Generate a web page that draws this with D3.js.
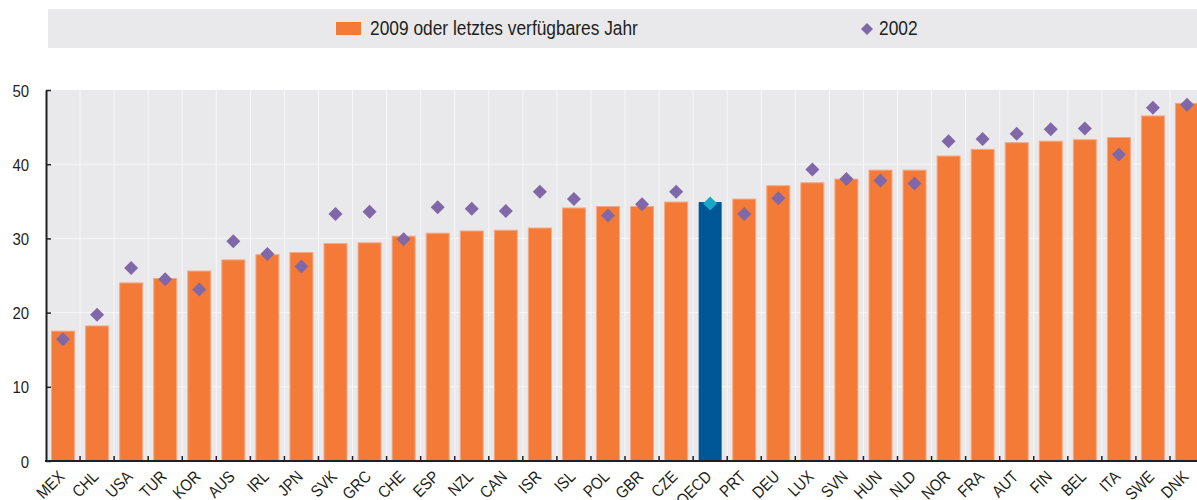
<!DOCTYPE html>
<html>
<head>
<meta charset="utf-8">
<script src="https://cdn.jsdelivr.net/npm/d3@7"></script>
<style>
  body { margin: 0; background: #fff; }
  svg text { font-family: 'Liberation Sans', Arial, sans-serif; fill: #231f20; }
</style>
</head>
<body>
<svg id="chart" width="1197" height="500"></svg>
<script>
var countries = ['MEX','CHL','USA','TUR','KOR','AUS','IRL','JPN','SVK','GRC','CHE','ESP','NZL','CAN','ISR','ISL','POL','GBR','CZE','OECD','PRT','DEU','LUX','SVN','HUN','NLD','NOR','FRA','AUT','FIN','BEL','ITA','SWE','DNK'];
var latest = [17.5,18.2,24.0,24.6,25.6,27.1,27.8,28.1,29.3,29.4,30.3,30.7,31.0,31.1,31.4,34.1,34.3,34.3,34.9,34.9,35.3,37.1,37.5,38.0,39.2,39.2,41.1,42.0,42.9,43.1,43.3,43.6,46.5,48.2];
var y2002 = [16.4,19.7,26.0,24.5,23.1,29.6,27.9,26.2,33.3,33.6,29.9,34.2,34.0,33.7,36.3,35.3,33.1,34.6,36.3,34.7,33.3,35.4,39.3,38.0,37.8,37.4,43.1,43.4,44.1,44.7,44.8,41.3,47.6,48.0];
var yTicks = [0,10,20,30,40,50];
var seriesNames = ['2009 oder letztes verfügbares Jahr', '2002'];

var svg = d3.select('#chart');
var plotLeft = 46, plotBottom = 461, plotTop = 90;
var step = 34.06;
var plotRight = plotLeft + step * countries.length;
var narrow = 0.88; // condensed look

var x = d3.scaleBand().domain(countries).range([plotLeft, plotRight])
    .paddingInner(0.325).paddingOuter(0.1625);
var y = d3.scaleLinear().domain([0, 50]).range([plotBottom, plotTop]);

// legend
var legend = svg.append('g');
legend.append('rect').attr('x', 48).attr('y', 9).attr('width', 1149).attr('height', 39).attr('fill', '#e9e9ec');
legend.append('rect').attr('x', 336).attr('y', 22).attr('width', 25).attr('height', 13).attr('fill', '#f37b37');
legend.append('text').attr('transform', 'translate(370,34.5) scale(' + (narrow + 0.01) + ',1)')
    .style('font-size', '19.5px').text(seriesNames[0]);
legend.append('path').attr('d', d3.symbol(d3.symbolSquare, 72)())
    .attr('transform', 'translate(867,29) rotate(45)').attr('fill', '#8067a7');
legend.append('text').attr('transform', 'translate(879,34.5) scale(' + (narrow + 0.01) + ',1)')
    .style('font-size', '19.5px').text(seriesNames[1]);

// plot background + grid
svg.append('rect').attr('x', plotLeft).attr('y', plotTop).attr('width', 1197 - plotLeft)
    .attr('height', plotBottom - plotTop).attr('fill', '#e9e9ec');
svg.append('g').selectAll('line').data(yTicks.slice(1, -1)).enter().append('line')
    .attr('x1', plotLeft).attr('x2', 1197)
    .attr('y1', function(d) { return y(d); }).attr('y2', function(d) { return y(d); })
    .attr('stroke', '#f7f7f8').attr('stroke-width', 1);
var boundaries = countries.slice(1).map(function(d) { return x(d) - x.step() * x.paddingInner() / 2; });
svg.append('g').selectAll('line').data(boundaries).enter().append('line')
    .attr('x1', function(d) { return d; }).attr('x2', function(d) { return d; })
    .attr('y1', plotTop).attr('y2', plotBottom)
    .attr('stroke', '#f7f7f8').attr('stroke-width', 1);

// bars
svg.append('g').selectAll('rect').data(countries).enter().append('rect')
    .attr('x', function(d) { return x(d); })
    .attr('y', function(d, i) { return y(latest[i]); })
    .attr('width', x.bandwidth())
    .attr('height', function(d, i) { return plotBottom - y(latest[i]); })
    .attr('fill', function(d) { return d === 'OECD' ? '#005797' : '#f37b37'; })
    .attr('stroke', function(d) { return d === 'OECD' ? 'none' : '#f6a882'; })
    .attr('stroke-width', 1);

// 2002 markers
var diamond = d3.symbol(d3.symbolSquare, 98);
svg.append('g').selectAll('path').data(countries).enter().append('path')
    .attr('d', diamond)
    .attr('transform', function(d, i) {
        return 'translate(' + (x(d) + x.bandwidth() / 2) + ',' + y(y2002[i]) + ') rotate(45)';
    })
    .attr('fill', function(d) { return d === 'OECD' ? '#17a8c9' : '#8067a7'; });

// y axis
var yAxis = svg.append('g').attr('transform', 'translate(' + plotLeft + ',0)')
    .call(d3.axisLeft(y).tickValues(yTicks).tickSizeInner(-5).tickSizeOuter(0));
yAxis.select('.domain').attr('stroke', '#231f20').attr('stroke-width', 2);
yAxis.selectAll('.tick line').attr('stroke', '#231f20').attr('stroke-width', 1.5);
yAxis.selectAll('text').style('font-size', '17px').attr('font-family', null).attr('fill', null)
    .attr('x', -17 / narrow).attr('dy', '0.36em')
    .attr('transform', 'scale(' + narrow + ',1)');

// x axis
var xAxis = svg.append('g').attr('transform', 'translate(0,' + plotBottom + ')')
    .call(d3.axisBottom(x).tickSize(0).tickPadding(0));
xAxis.select('.domain').remove();
xAxis.selectAll('text')
    .style('font-size', '16.5px').attr('font-family', null).attr('fill', null)
    .style('text-anchor', 'end')
    .attr('x', -10 / narrow).attr('y', 13.5).attr('dy', 0)
    .attr('transform', 'rotate(-45) scale(' + narrow + ',1)');
svg.append('line').attr('x1', plotLeft - 1).attr('x2', 1197).attr('y1', plotBottom).attr('y2', plotBottom)
    .attr('stroke', '#231f20').attr('stroke-width', 2);
svg.append('g').selectAll('line').data(boundaries).enter().append('line')
    .attr('x1', function(d) { return d; }).attr('x2', function(d) { return d; })
    .attr('y1', plotBottom - 5).attr('y2', plotBottom)
    .attr('stroke', '#231f20').attr('stroke-width', 1.5);
</script>
</body>
</html>
